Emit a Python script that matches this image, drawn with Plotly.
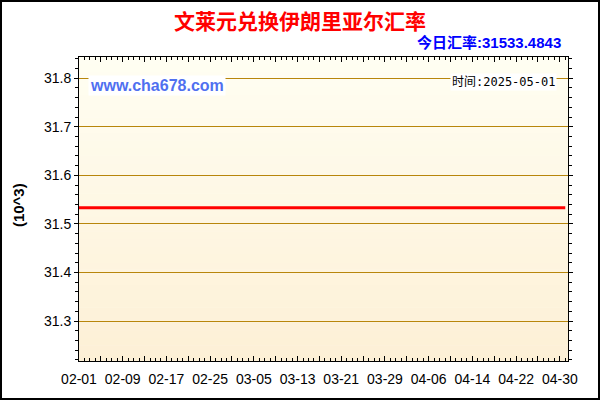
import pandas as pd
import plotly.graph_objects as go

# data: daily BND -> IRR rate (in thousands), 2025-02-01 .. 2025-05-01
start_date = '2025-02-01'
end_date = '2025-05-01'
rates = [
    31.5334843, 31.5334843, 31.5334843, 31.5334843, 31.5334843, 31.5334843, 31.5334843, 31.5334843, 31.5334843, 31.5334843,
    31.5334843, 31.5334843, 31.5334843, 31.5334843, 31.5334843, 31.5334843, 31.5334843, 31.5334843, 31.5334843, 31.5334843,
    31.5334843, 31.5334843, 31.5334843, 31.5334843, 31.5334843, 31.5334843, 31.5334843, 31.5334843, 31.5334843, 31.5334843,
    31.5334843, 31.5334843, 31.5334843, 31.5334843, 31.5334843, 31.5334843, 31.5334843, 31.5334843, 31.5334843, 31.5334843,
    31.5334843, 31.5334843, 31.5334843, 31.5334843, 31.5334843, 31.5334843, 31.5334843, 31.5334843, 31.5334843, 31.5334843,
    31.5334843, 31.5334843, 31.5334843, 31.5334843, 31.5334843, 31.5334843, 31.5334843, 31.5334843, 31.5334843, 31.5334843,
    31.5334843, 31.5334843, 31.5334843, 31.5334843, 31.5334843, 31.5334843, 31.5334843, 31.5334843, 31.5334843, 31.5334843,
    31.5334843, 31.5334843, 31.5334843, 31.5334843, 31.5334843, 31.5334843, 31.5334843, 31.5334843, 31.5334843, 31.5334843,
    31.5334843, 31.5334843, 31.5334843, 31.5334843, 31.5334843, 31.5334843, 31.5334843, 31.5334843, 31.5334843, 31.5334843,
]
dates = pd.date_range(start_date, end_date, freq='D')

title_text = '文莱元兑换伊朗里亚尔汇率'
today_text = '今日汇率:31533.4843'
site_text = 'www.cha678.com'
time_text = '时间:2025-05-01'
unit_text = '(10^3)'

# x ticks every 4 days, label every 8 days
tick_dates = pd.date_range(start_date, '2025-04-30', freq='4D')
tick_labels = [d.strftime('%m-%d') if i % 2 == 0 else '' for i, d in enumerate(tick_dates)]

fig = go.Figure()
fig.add_trace(go.Scatter(x=dates, y=rates, mode='lines',
                         line=dict(color='#ff0000', width=3), hoverinfo='skip'))

# plot area gradient (pale cream -> light tan), below gridlines
top_rgb = (255, 254, 242)
bot_rgb = (253, 240, 214)
n_bands = 40
shapes = []
for i in range(n_bands):
    t = i / (n_bands - 1)
    c = tuple(round(bot_rgb[k] + (top_rgb[k] - bot_rgb[k]) * t) for k in range(3))
    shapes.append(dict(type='rect', xref='paper', yref='paper', layer='below',
                       x0=0, x1=1, y0=i / n_bands, y1=(i + 1) / n_bands + 0.002,
                       fillcolor='rgb(%d,%d,%d)' % c, line=dict(width=0)))
# outer border of the picture
shapes.append(dict(type='rect', xref='paper', yref='paper', layer='above',
                   x0=-0.1595, x1=1.0634, y0=-0.1250, y1=1.1842,
                   line=dict(color='black', width=2)))

fig.update_layout(
    width=600, height=400,
    margin=dict(l=79, r=32, t=57, b=39),
    paper_bgcolor='white', plot_bgcolor='rgba(0,0,0,0)',
    showlegend=False,
    font=dict(family='Liberation Sans, Arial, sans-serif', color='black'),
    title=dict(text='<b>' + title_text + '</b>', x=0.5, xanchor='center',
               y=1 - 22 / 400, yanchor='middle', yref='container',
               font=dict(family='Noto Sans CJK SC', size=21, color='#ff0000')),
    shapes=shapes,
)

fig.update_xaxes(
    range=['2025-02-01', '2025-05-01 12:00'],
    tickvals=tick_dates, ticktext=tick_labels,
    tickfont=dict(size=14), ticks='inside', ticklen=5, tickcolor='black',
    ticklabelstandoff=5,
    showline=True, linecolor='black', linewidth=1, mirror='ticks',
    showgrid=False, zeroline=False,
    minor=dict(dtick=86400000, tick0='2025-02-01', ticks='inside', ticklen=3,
               tickcolor='black', showgrid=False),
)
fig.update_yaxes(
    range=[31.2178, 31.8438], tick0=31.3, dtick=0.1, tickformat='.1f',
    tickfont=dict(size=14), ticks='outside', ticklen=4, tickcolor='black',
    showline=True, linecolor='black', linewidth=1, mirror='ticks',
    showgrid=True, gridcolor='#b8860b', gridwidth=1, zeroline=False,
    minor=dict(dtick=0.02, tick0=31.3, ticks='outside', ticklen=3,
               tickcolor='black', showgrid=False),
)

fig.add_annotation(text='<b>' + today_text + '</b>', xref='paper', yref='paper',
                   x=0.9898, y=1.049, xanchor='right', yanchor='middle', showarrow=False,
                   font=dict(family='Liberation Sans, Noto Sans CJK SC', size=15, color='#0000ff'))
fig.add_annotation(text='<b>' + site_text + '</b>', xref='paper', yref='paper',
                   x=0.018, y=0.907, xanchor='left', yanchor='middle', showarrow=False,
                   bgcolor='white', borderpad=1,
                   font=dict(family='Liberation Sans, Arial', size=16, color='#5070f0'))
fig.add_annotation(text=time_text, xref='paper', yref='paper',
                   x=0.978, y=0.918, xanchor='right', yanchor='middle', showarrow=False,
                   bgcolor='white', borderpad=1,
                   font=dict(family='DejaVu Sans Mono, Noto Sans CJK SC', size=12, color='black'))
fig.add_annotation(text='<b>' + unit_text + '</b>', xref='paper', yref='paper',
                   x=-0.1247, y=0.513, xanchor='center', yanchor='middle', textangle=-90,
                   showarrow=False, font=dict(size=15, color='black'))

# drop the browser's default 8px body margin so the figure sits at 0,0
fig.write_html('out.html', config={'displayModeBar': False},
               post_script="document.body.style.margin='0';")
